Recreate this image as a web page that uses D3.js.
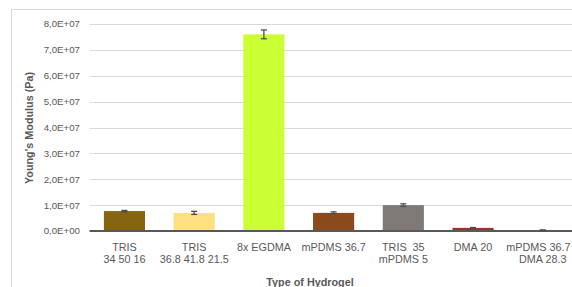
<!DOCTYPE html>
<html><head><meta charset="utf-8">
<script src="https://cdn.jsdelivr.net/npm/d3@7"></script>
<style>body{margin:0;background:#fff}svg{display:block;font-family:"Liberation Sans",Arial,sans-serif}</style>
</head><body><svg id="c" width="572" height="287"></svg>
<script>
const categories = ["TRIS\n34 50 16","TRIS\n36.8 41.8 21.5","8x EGDMA","mPDMS 36.7","TRIS  35\nmPDMS 5","DMA 20","mPDMS 36.7\nDMA 28.3"];
const values = [7.7e6, 7.0e6, 7.6e7, 7.0e6, 1.0e7, 1.2e6, 3.0e5];
const errors = [2.5e5, 6e5, 1.7e6, 4e5, 5e5, 1.5e5, 1.5e5];
const colors = ["#856510","#ffdf80","#ccff33","#8b4a1b","#7f7a78","#a1302b","#555555"];
const yTicks = [0,1e7,2e7,3e7,4e7,5e7,6e7,7e7,8e7];

const svg = d3.select("#c");
// chart frame
svg.append("rect").attr("x",11.5).attr("y",9.5).attr("width",700).attr("height",400)
  .attr("fill","none").attr("stroke","#d9d9d9");

const x = d3.scaleBand().domain(categories).range([89.6,577.6]).paddingInner(0.41).paddingOuter(0.205);
const y = d3.scaleLinear().domain([0,8e7]).range([231,24]);
const fmt = v => (v/1e7).toFixed(1).replace(".",",") + (v===0 ? "E+00" : "E+07");

// gridlines
svg.append("g").selectAll("line").data(yTicks.filter(d=>d>0)).join("line")
  .attr("x1",89.6).attr("x2",600).attr("y1",d=>Math.round(y(d))+0.5).attr("y2",d=>Math.round(y(d))+0.5)
  .attr("stroke","#d9d9d9").attr("stroke-width",1);

// y tick labels
svg.append("g").selectAll("text").data(yTicks).join("text")
  .attr("x",80).attr("y",d=>y(d)).attr("dy","0.35em").attr("text-anchor","end")
  .attr("font-size",9.7).attr("fill","#595959").text(fmt);

// bars
svg.append("g").selectAll("rect").data(values).join("rect")
  .attr("x",(d,i)=>x(categories[i])).attr("width",x.bandwidth())
  .attr("y",d=>y(d)).attr("height",d=>y(0)-y(d))
  .attr("fill",(d,i)=>colors[i]);

// axis line
svg.append("line").attr("x1",89.6).attr("x2",600).attr("y1",y(0)).attr("y2",y(0))
  .attr("stroke","#595959").attr("stroke-width",2);

// error bars
const eg = svg.append("g").attr("stroke","#4d4d4d").attr("stroke-width",1.3);
values.forEach((v,i)=>{
  const cx = x(categories[i]) + x.bandwidth()/2;
  const hi = y(v+errors[i]), lo = y(Math.max(0,v-errors[i]));
  eg.append("line").attr("x1",cx).attr("x2",cx).attr("y1",hi).attr("y2",lo);
  eg.append("line").attr("x1",cx-3).attr("x2",cx+3).attr("y1",hi).attr("y2",hi);
  eg.append("line").attr("x1",cx-3).attr("x2",cx+3).attr("y1",lo).attr("y2",lo);
});

// x labels (kept inside the visible area, as in the reference)
const xl = svg.append("g").attr("font-size",10.8).attr("fill","#595959").attr("text-anchor","middle");
categories.forEach(c=>{
  const cx = x(c) + x.bandwidth()/2;
  c.split("\n").forEach((line,j)=>{
    const t = xl.append("text").attr("x",cx).attr("y",250.5 + j*12).attr("xml:space","preserve").text(line);
    const w = t.node().getComputedTextLength();
    if (cx + w/2 > 570.5) t.attr("x", 570.5 - w/2);
  });
});

// axis titles
svg.append("text").attr("transform","translate(33,128) rotate(-90)").attr("text-anchor","middle")
  .attr("font-size",10.8).attr("font-weight","bold").attr("fill","#595959").text("Young's Modulus (Pa)");
svg.append("text").attr("x",310).attr("y",286).attr("text-anchor","middle")
  .attr("font-size",10.8).attr("font-weight","bold").attr("fill","#595959").text("Type of Hydrogel");
</script></body></html>
